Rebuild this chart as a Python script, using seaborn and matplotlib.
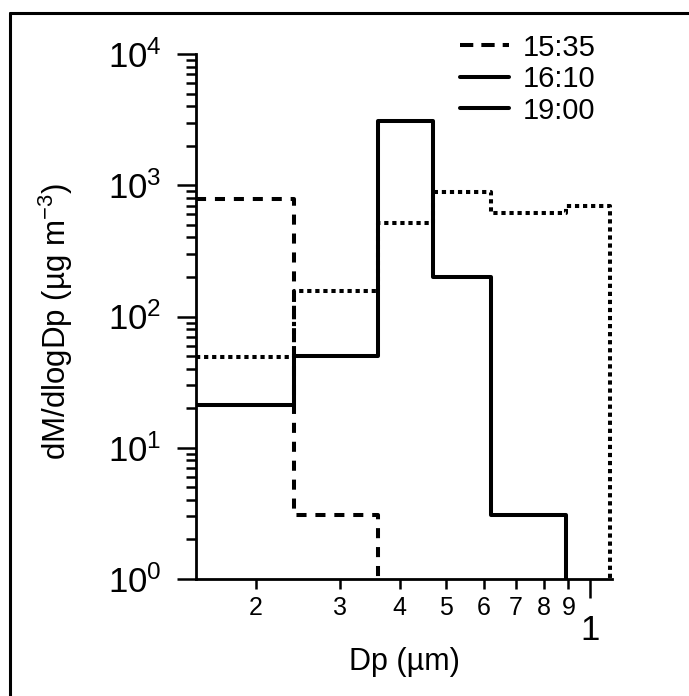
import numpy as np
import pandas as pd
import matplotlib
matplotlib.use('Agg')
import matplotlib.pyplot as plt
import matplotlib.ticker as mticker
from matplotlib.lines import Line2D
import seaborn as sns

# ------------------------------------------------------------
# DATA
# ------------------------------------------------------------
# bin edges in um
edges = [0.15, 0.24, 0.36, 0.47, 0.62, 0.89, 1.10]
# dM/dlogDp per bin (ug m-3), each series stops at its last bin
mass_1535 = [780, 3.1]
mass_1610 = [21, 50, 3100, 200, 3.1]
mass_1900 = [49, 156, 515, 890, 610, 700]
series_names = ['15:35', '16:10', '19:00']

x_minor = [0.2, 0.3, 0.4, 0.5, 0.6, 0.7, 0.8, 0.9]
x_minor_labels = ['2', '3', '4', '5', '6', '7', '8', '9']

# ------------------------------------------------------------
# STYLE
# ------------------------------------------------------------
sns.set_theme(style='ticks')
plt.rcParams['font.family'] = ['Liberation Sans', 'DejaVu Sans']
plt.rcParams['mathtext.fontset'] = 'custom'
plt.rcParams['mathtext.rm'] = 'Liberation Sans'
for key in ['text.color', 'axes.labelcolor', 'xtick.color', 'ytick.color',
            'axes.edgecolor']:
    plt.rcParams[key] = 'black'


def step_frame(vals, name, floor=0.3):
    # steps-post: value holds until next edge, then drops below the axis
    n = len(vals)
    return pd.DataFrame({'Dp': edges[:n + 1], 'dM': list(vals) + [floor],
                         'time': name})


fig = plt.figure(figsize=(6.89, 6.96), dpi=100)
ax = fig.add_axes([196 / 689, 1 - 579 / 696, (612 - 196) / 689, (579 - 54) / 696])

styles = {
    '15:35': dict(dashes=(2.5, 2.2)),
    '16:10': dict(),
    '19:00': dict(dashes=(1.05, 0.95)),
}
for vals, name in zip([mass_1535, mass_1610, mass_1900], series_names):
    df = step_frame(vals, name)
    sns.lineplot(data=df, x='Dp', y='dM', ax=ax, estimator=None,
                 sort=False, drawstyle='steps-post', color='black',
                 lw=2.9, legend=False)
    ln = ax.lines[-1]
    if 'dashes' in styles[name]:
        ln.set_dashes(styles[name]['dashes'])

ax.set_xscale('log')
ax.set_yscale('log')
ax.set_xlim(0.15, 1.11)
ax.set_ylim(1, 1e4)

# x ticks: only "1" is major, 2..9 are small labelled minor ticks
ax.xaxis.set_major_locator(mticker.FixedLocator([1.0]))
ax.xaxis.set_major_formatter(mticker.FixedFormatter(['1']))
ax.xaxis.set_minor_locator(mticker.FixedLocator(x_minor))
ax.xaxis.set_minor_formatter(mticker.FixedFormatter(x_minor_labels))
ax.tick_params(axis='x', which='major', length=14, width=1.8, labelsize=25,
               pad=11, direction='out', colors='black')
ax.tick_params(axis='x', which='minor', length=7.5, width=1.8, labelsize=18,
               pad=5, direction='out', colors='black')

ax.yaxis.set_major_locator(mticker.LogLocator(base=10, numticks=10))
ax.yaxis.set_minor_locator(mticker.LogLocator(base=10, subs=np.arange(2, 10), numticks=10))
ax.yaxis.set_minor_formatter(mticker.NullFormatter())
ax.tick_params(axis='y', which='major', length=14, width=1.8, labelsize=25,
               pad=11, direction='out', colors='black')
ax.tick_params(axis='y', which='minor', length=7, width=1.8, direction='out',
               colors='black')

for side in ['top', 'right']:
    ax.spines[side].set_visible(False)
for side in ['left', 'bottom']:
    ax.spines[side].set_linewidth(2)
    ax.spines[side].set_color('black')

ax.set_xlabel('Dp (µm)', fontsize=22, color='black')
ax.set_ylabel('dM/dlogDp (µg m$^{-3}$)', fontsize=22.5, color='black')
ax.xaxis.set_label_coords(0.5, -0.13)
ax.yaxis.set_label_coords(-0.29, 0.49)

# legend as drawn in the original
handles = [
    Line2D([], [], color='black', lw=2.9, dashes=(3.3, 2.0)),
    Line2D([], [], color='black', lw=2.9),
    Line2D([], [], color='black', lw=2.9),
]
leg = ax.legend(handles, series_names, loc='upper left', frameon=False,
                bbox_to_anchor=(445 / 689, 1 - 19 / 696),
                bbox_transform=fig.transFigure, fontsize=21, borderpad=0,
                labelspacing=0.12, handlelength=1.7, handletextpad=0.48)
for t in leg.get_texts():
    t.set_color('black')

# outer frame (only the top and left edges are in the picture)
fig.add_artist(Line2D([10 / 689, 10 / 689], [0, 1 - 13 / 696],
                      transform=fig.transFigure, color='black', lw=2.2))
fig.add_artist(Line2D([10 / 689, 1], [1 - 13 / 696, 1 - 13 / 696],
                      transform=fig.transFigure, color='black', lw=2.2))

fig.savefig('out.png', dpi=100)
